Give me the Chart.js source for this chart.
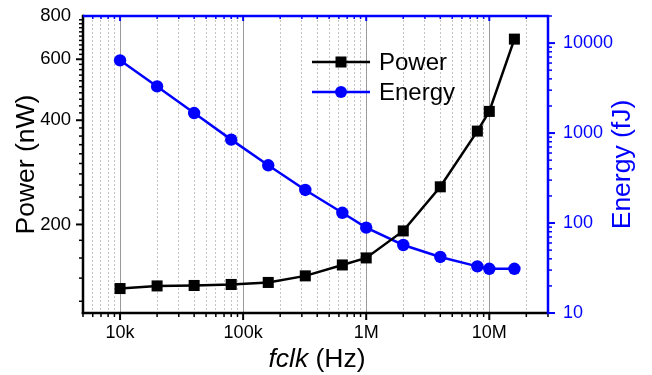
<!DOCTYPE html>
<html>
<head>
<meta charset="utf-8">
<script src="https://cdn.jsdelivr.net/npm/chart.js@4/dist/chart.umd.min.js"></script>
<style>
  html, body { margin: 0; padding: 0; background: #fff; }
  #wrap { width: 652px; height: 375px; }
</style>
</head>
<body>
<div id="wrap"><canvas id="chart" width="652" height="375"></canvas></div>
<script>
// clock frequency (Hz) and the two measured series
const freqHz = [1e4, 2e4, 4e4, 8e4, 1.6e5, 3.2e5, 6.4e5, 1e6, 2e6, 4e6, 8e6, 1e7, 1.6e7];
const powerNW = [130.6, 132.9, 133.3, 134.2, 136.0, 142.1, 152.8, 160.1, 191.6, 256.9, 372.1, 424.2, 686];
const energyFJ = [6430, 3300, 1670, 845, 438, 233, 130, 89, 57, 42, 33, 31, 31];

// axis ticks
const xTickValues = [1e4, 1e5, 1e6, 1e7];
const xTickLabels = ['10k', '100k', '1M', '10M'];
const powerTicks = [200, 400, 600, 800];
const energyTicks = [10, 100, 1000, 10000];

const FONT = "'Liberation Sans', Arial, sans-serif";
const BLUE = '#0000ff';

// minor ticks of a log axis: 1..9 x 10^n inside [min, max]
function logMinor(min, max) {
    const out = [];
    for (let e = Math.floor(Math.log10(min)); e <= Math.ceil(Math.log10(max)); e++) {
        for (let m = 1; m <= 9; m++) {
            const v = m * Math.pow(10, e);
            if (v >= min * 0.999 && v <= max * 1.001) out.push(v);
        }
    }
    return out;
}
const xAll = logMinor(5000, 3e7);
const isMajorX = v => xTickValues.some(t => Math.abs(t - v) / t < 1e-6);

// ticks, axis lines, titles and legend drawn by hand
const decor = {
    id: 'decor',
    afterDraw(chart) {
        const { ctx, chartArea: a, scales } = chart;
        const sx = scales.x, yl = scales.y, yr = scales.y1;
        ctx.save();

        function seg(x1, y1, x2, y2, w, c) {
            ctx.beginPath();
            ctx.moveTo(x1, y1);
            ctx.lineTo(x2, y2);
            ctx.lineWidth = w;
            ctx.strokeStyle = c;
            ctx.stroke();
        }

        // bottom (black, outward) and top (blue, inward) ticks
        xAll.forEach(v => {
            const px = sx.getPixelForValue(v);
            const major = isMajorX(v);
            seg(px, a.bottom, px, a.bottom + (major ? 7 : 4), major ? 2 : 1.5, '#000');
            seg(px, a.top, px, a.top + (major ? 5 : 3), major ? 2 : 1.5, BLUE);
        });

        // left ticks (black, outward)
        for (let v = 120; v <= 780; v += 20) {
            const py = yl.getPixelForValue(v);
            if (py > a.bottom - 1) continue;
            const major = powerTicks.includes(v);
            seg(a.left, py, a.left - (major ? 7 : 4), py, major ? 2 : 1.5, '#000');
        }

        // right ticks (blue, outward)
        logMinor(10, 20000).forEach(v => {
            const py = yr.getPixelForValue(v);
            const major = energyTicks.includes(v);
            seg(a.right, py, a.right + (major ? 7 : 4), py, major ? 2 : 1.5, BLUE);
        });

        // frame
        seg(a.left, a.bottom + 1.25, a.left, a.top - 1.25, 2.5, '#000');
        seg(a.left - 1.25, a.bottom, a.right, a.bottom, 2.5, '#000');
        seg(a.left, a.top, a.right + 1.25, a.top, 2.5, BLUE);
        seg(a.right, a.top, a.right, a.bottom + 1.25, 2.5, BLUE);

        // axis titles
        ctx.textBaseline = 'middle';
        ctx.textAlign = 'center';
        ctx.font = '26.5px ' + FONT;
        ctx.fillStyle = '#000';
        ctx.save();
        ctx.translate(27, (a.top + a.bottom) / 2);
        ctx.rotate(-Math.PI / 2);
        ctx.fillText('Power (nW)', 0, 0);
        ctx.restore();

        ctx.fillStyle = BLUE;
        ctx.save();
        ctx.translate(623, (a.top + a.bottom) / 2);
        ctx.rotate(-Math.PI / 2);
        ctx.fillText('Energy (fJ)', 0, 0);
        ctx.restore();

        // x title: italic "fclk" + " (Hz)"
        ctx.fillStyle = '#000';
        ctx.textAlign = 'left';
        ctx.font = 'italic 26.5px ' + FONT;
        const w1 = ctx.measureText('fclk').width;
        ctx.font = '26.5px ' + FONT;
        const w2 = ctx.measureText(' (Hz)').width;
        const x0 = 317 - (w1 + w2) / 2;
        ctx.font = 'italic 26.5px ' + FONT;
        ctx.fillText('fclk', x0, 360);
        ctx.font = '26.5px ' + FONT;
        ctx.fillText(' (Hz)', x0 + w1, 360);

        // legend
        const rows = [
            { ds: chart.data.datasets[0], y: 62 },
            { ds: chart.data.datasets[1], y: 92 }
        ];
        ctx.font = '24px ' + FONT;
        rows.forEach(r => {
            seg(312, r.y, 370, r.y, 2.5, r.ds.borderColor);
            ctx.fillStyle = r.ds.borderColor;
            if (r.ds.pointStyle === 'rect') {
                ctx.fillRect(341 - 5.5, r.y - 5.5, 11, 11);
            } else {
                ctx.beginPath();
                ctx.arc(341, r.y, 6, 0, Math.PI * 2);
                ctx.fill();
            }
            ctx.fillStyle = '#000';
            ctx.fillText(r.ds.label, 379, r.y + 1);
        });

        ctx.restore();
    }
};

// keep the plot frame where it is in the original figure
function fixY(width) {
    return s => {
        s.width = width;
        s.paddingTop = 0;
        s.paddingBottom = 0;
    };
}

new Chart(document.getElementById('chart'), {
    type: 'line',
    data: {
        datasets: [
            {
                label: 'Power',
                data: freqHz.map((f, i) => ({ x: f, y: powerNW[i] })),
                yAxisID: 'y',
                borderColor: '#000',
                backgroundColor: '#000',
                borderWidth: 2.5,
                pointStyle: 'rect',
                pointRadius: 7.8,
                pointBorderWidth: 0,
                tension: 0
            },
            {
                label: 'Energy',
                data: freqHz.map((f, i) => ({ x: f, y: energyFJ[i] })),
                yAxisID: 'y1',
                borderColor: BLUE,
                backgroundColor: BLUE,
                borderWidth: 2.5,
                pointStyle: 'circle',
                pointRadius: 6.2,
                pointBorderWidth: 0,
                tension: 0
            }
        ]
    },
    options: {
        responsive: false,
        animation: false,
        layout: { padding: { top: 16, left: 0, right: 0, bottom: 0 } },
        plugins: { legend: { display: false }, tooltip: { enabled: false } },
        scales: {
            x: {
                type: 'logarithmic',
                min: 5000,
                max: 3e7,
                afterBuildTicks: s => { s.ticks = xAll.map(v => ({ value: v })); },
                afterFit: s => {
                    s.height = 62;
                    s.paddingLeft = 0;
                    s.paddingRight = 0;
                },
                ticks: {
                    autoSkip: false,
                    maxRotation: 0,
                    padding: 9,
                    color: '#000',
                    font: { family: FONT, size: 18 },
                    callback: v => {
                        const i = xTickValues.findIndex(t => Math.abs(t - v) / t < 1e-6);
                        return i >= 0 ? xTickLabels[i] : '';
                    }
                },
                grid: {
                    drawTicks: false,
                    color: c => isMajorX(c.tick.value) ? '#9a9a9a' : '#c4c4c4',
                    lineWidth: 1
                },
                border: {
                    display: false,
                    dash: c => isMajorX(c.tick.value) ? [] : [2, 2]
                }
            },
            y: {
                type: 'logarithmic',
                position: 'left',
                min: 111,
                max: 800,
                afterBuildTicks: s => { s.ticks = powerTicks.map(v => ({ value: v })); },
                afterFit: fixY(83),
                ticks: {
                    padding: 12,
                    color: '#000',
                    font: { family: FONT, size: 18.5 },
                    callback: v => String(v)
                },
                grid: { drawOnChartArea: false, drawTicks: false },
                border: { display: false }
            },
            y1: {
                type: 'logarithmic',
                position: 'right',
                min: 10,
                max: 20000,
                afterBuildTicks: s => { s.ticks = energyTicks.map(v => ({ value: v })); },
                afterFit: fixY(104),
                ticks: {
                    padding: 15,
                    color: BLUE,
                    font: { family: FONT, size: 18 },
                    callback: v => String(v)
                },
                grid: { drawOnChartArea: false, drawTicks: false },
                border: { display: false }
            }
        }
    },
    plugins: [decor]
});
</script>
</body>
</html>
